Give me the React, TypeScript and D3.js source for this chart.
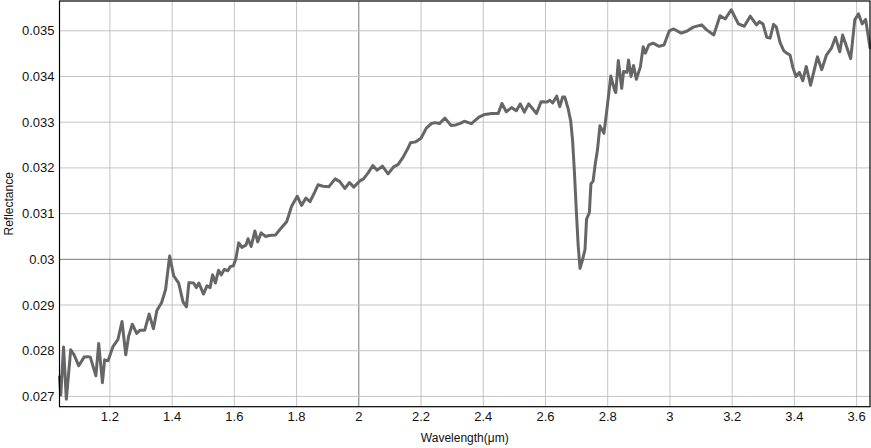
import React, { useEffect } from "react";
import * as d3 from "d3";

// spectrum
const wavelength = [
  1.038, 1.042, 1.051, 1.06, 1.074, 1.085, 1.1, 1.117, 1.13, 1.137, 1.155, 1.164, 1.176, 1.183, 1.194,
  1.21, 1.226, 1.239, 1.251, 1.26, 1.272, 1.286, 1.297, 1.312, 1.326, 1.34, 1.351, 1.366, 1.379, 1.392,
  1.405, 1.421, 1.435, 1.446, 1.454, 1.469, 1.478, 1.486, 1.501, 1.512, 1.522, 1.53, 1.539, 1.549, 1.558,
  1.568, 1.579, 1.587, 1.597, 1.605, 1.614, 1.624, 1.637, 1.644, 1.654, 1.666, 1.675, 1.686, 1.7, 1.712,
  1.732, 1.745, 1.768, 1.784, 1.802, 1.816, 1.83, 1.843, 1.859, 1.869, 1.885, 1.904, 1.924, 1.939, 1.955,
  1.97, 1.984, 2.002, 2.015, 2.03, 2.045, 2.059, 2.076, 2.094, 2.113, 2.126, 2.142, 2.155, 2.166, 2.183,
  2.2, 2.217, 2.233, 2.246, 2.259, 2.277, 2.296, 2.312, 2.328, 2.339, 2.362, 2.386, 2.405, 2.427, 2.448,
  2.46, 2.474, 2.491, 2.506, 2.519, 2.532, 2.546, 2.571, 2.586, 2.605, 2.614, 2.623, 2.636, 2.646, 2.655,
  2.662, 2.673, 2.681, 2.687, 2.693, 2.699, 2.705, 2.711, 2.719, 2.727, 2.732, 2.741, 2.746, 2.753, 2.76,
  2.767, 2.775, 2.788, 2.796, 2.81, 2.822, 2.826, 2.834, 2.845, 2.851, 2.862, 2.867, 2.875, 2.883, 2.892,
  2.905, 2.914, 2.921, 2.932, 2.946, 2.965, 2.981, 2.998, 3.012, 3.036, 3.054, 3.075, 3.102, 3.118, 3.141,
  3.161, 3.178, 3.197, 3.22, 3.239, 3.258, 3.278, 3.288, 3.299, 3.311, 3.322, 3.333, 3.342, 3.354, 3.366,
  3.375, 3.386, 3.395, 3.405, 3.416, 3.427, 3.438, 3.452, 3.474, 3.488, 3.503, 3.519, 3.532, 3.546, 3.555,
  3.581, 3.594, 3.606, 3.618, 3.629, 3.643,
];

const reflectance = [
  0.02743, 0.02703, 0.02808, 0.02694, 0.02802, 0.02791, 0.02767, 0.02786, 0.02787, 0.02786, 0.02745, 0.02816, 0.0273, 0.0278, 0.02778,
  0.02809, 0.02825, 0.02864, 0.02791, 0.02831, 0.02858, 0.02838, 0.02845, 0.02845, 0.0288, 0.02848, 0.02888, 0.02905, 0.02934, 0.03007,
  0.02964, 0.02948, 0.02907, 0.02896, 0.02949, 0.02948, 0.02938, 0.02948, 0.02924, 0.02942, 0.02938, 0.02966, 0.02948, 0.02976, 0.02966,
  0.02978, 0.02975, 0.02984, 0.02986, 0.03002, 0.03036, 0.03026, 0.03031, 0.03045, 0.03028, 0.03062, 0.03038, 0.03058, 0.0305, 0.03052,
  0.03053, 0.03064, 0.03082, 0.03116, 0.03138, 0.03118, 0.03134, 0.03126, 0.03148, 0.03163, 0.0316, 0.03159, 0.03176, 0.0317, 0.03155,
  0.03168, 0.03158, 0.03171, 0.03176, 0.03189, 0.03205, 0.03195, 0.03204, 0.03187, 0.03203, 0.03207, 0.03223, 0.03239, 0.03255, 0.03257,
  0.03265, 0.03287, 0.03297, 0.03299, 0.03297, 0.03309, 0.03293, 0.03294, 0.03298, 0.03302, 0.03297, 0.03311, 0.03317, 0.03319, 0.03319,
  0.03341, 0.03323, 0.03332, 0.03325, 0.0334, 0.03322, 0.0334, 0.03319, 0.03345, 0.03344, 0.03348, 0.03342, 0.03357, 0.03334, 0.03355,
  0.03355, 0.03329, 0.03303, 0.03261, 0.03191, 0.03108, 0.03031, 0.0298, 0.02999, 0.03021, 0.03088, 0.03102, 0.03165, 0.03171, 0.03209,
  0.03239, 0.03292, 0.03276, 0.0332, 0.03401, 0.0337, 0.03365, 0.03435, 0.03374, 0.03411, 0.03409, 0.03436, 0.034, 0.03424, 0.03394,
  0.03421, 0.03465, 0.03451, 0.03469, 0.03473, 0.03466, 0.03469, 0.035, 0.03504, 0.03495, 0.03499, 0.03508, 0.03513, 0.03502, 0.03491,
  0.03533, 0.03526, 0.03546, 0.03515, 0.0351, 0.03532, 0.03513, 0.0352, 0.03515, 0.03486, 0.03484, 0.03514, 0.03508, 0.03474, 0.03456,
  0.03451, 0.03447, 0.0342, 0.034, 0.03409, 0.03391, 0.03422, 0.03381, 0.03443, 0.03415, 0.03447, 0.03462, 0.03486, 0.03454, 0.03491,
  0.03439, 0.03524, 0.03537, 0.03515, 0.03525, 0.03463,
];

const xTicks = [1.2, 1.4, 1.6, 1.8, 2, 2.2, 2.4, 2.6, 2.8, 3, 3.2, 3.4, 3.6];
const yTicks = [0.027, 0.028, 0.029, 0.03, 0.031, 0.032, 0.033, 0.034, 0.035];
const xMajor = 2;
const yMajor = 0.03;

const W = 871;
const H = 448;
const margin = { top: 1, right: 1, bottom: 41.3, left: 59.5 };
const font = "'Liberation Sans', Arial, Helvetica, sans-serif";

export default function App() {
  useEffect(() => {
    document.body.style.margin = "0";
  }, []);

  const x = d3
    .scaleLinear()
    .domain([1.038, 3.643])
    .range([margin.left, W - margin.right]);
  const y = d3
    .scaleLinear()
    .domain([0.026775, 0.035652])
    .range([H - margin.bottom, margin.top]);

  const points = wavelength.map((w, i) => [w, reflectance[i]] as [number, number]);
  const path = d3
    .line<[number, number]>()
    .x((d) => x(d[0]))
    .y((d) => y(d[1]))(points);

  const fmt = (v: number) => String(+v.toFixed(3));
  const x0 = margin.left;
  const x1 = W - margin.right;
  const y0 = margin.top;
  const y1 = H - margin.bottom;

  return (
    <svg width={W} height={H} style={{ display: "block", fontFamily: font }}>
      <rect width={W} height={H} fill="#fff" />
      <g>
        {xTicks.map((t) => (
          <line
            key={"gx" + t}
            x1={x(t)}
            x2={x(t)}
            y1={y0}
            y2={y1}
            stroke={t === xMajor ? "#777" : "#c4c4c4"}
            strokeWidth={1}
          />
        ))}
        {yTicks.map((t) => (
          <line
            key={"gy" + t}
            x1={x0}
            x2={x1}
            y1={y(t)}
            y2={y(t)}
            stroke={t === yMajor ? "#777" : "#c4c4c4"}
            strokeWidth={1}
          />
        ))}
      </g>
      <path
        d={path || ""}
        fill="none"
        stroke="#666"
        strokeWidth={3}
        strokeLinejoin="round"
        strokeLinecap="round"
      />
      <rect x={x0} y={y0} width={x1 - x0} height={y1 - y0} fill="none" stroke="#000" strokeWidth={1.2} />
      <g fontSize={13} fill="#111">
        {xTicks.map((t) => (
          <text key={"tx" + t} x={x(t)} y={y1 + 14} textAnchor="middle">
            {fmt(t)}
          </text>
        ))}
        {yTicks.map((t) => (
          <text key={"ty" + t} x={x0 - 5} y={y(t)} dy="0.35em" textAnchor="end">
            {fmt(t)}
          </text>
        ))}
      </g>
      <text
        transform={`translate(13,${(y0 + y1) / 2}) rotate(-90)`}
        textAnchor="middle"
        fontSize={12}
        fill="#111"
      >
        Reflectance
      </text>
      <text x={(x0 + x1) / 2} y={H - 6} textAnchor="middle" fontSize={12} fill="#111">
        Wavelength(μm)
      </text>
    </svg>
  );
}
